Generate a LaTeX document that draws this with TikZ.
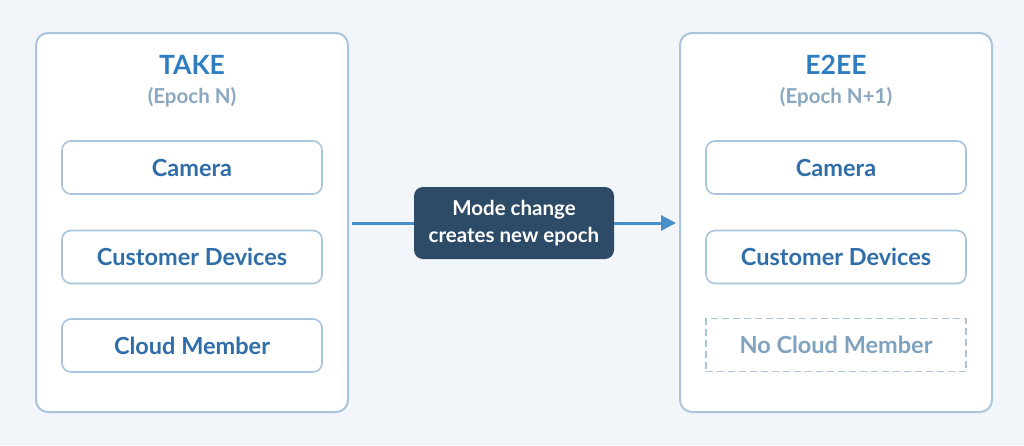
\documentclass[tikz,border=0pt]{standalone}
\usepackage{fontspec}
\setmainfont{Lato}
\usetikzlibrary{arrows.meta}
\definecolor{bg}{HTML}{F2F6FA}
\definecolor{frame}{HTML}{A9C4DC}
\definecolor{title}{HTML}{2F7DC0}
\definecolor{sub}{HTML}{8AA7C2}
\definecolor{inner}{HTML}{2F6EA8}
\definecolor{ghost}{HTML}{7FA2BF}
\definecolor{navy}{HTML}{2D4A66}
\definecolor{arrowc}{HTML}{4A8EC8}
\tikzset{
  panel/.style={draw=frame, line width=2pt, fill=white, rounded corners=12pt},
  item/.style={draw=frame, line width=1.6pt, fill=white, rounded corners=9pt, minimum width=260pt, minimum height=53pt, text=inner, font=\fontsize{23.5}{28}\selectfont\bfseries},
  ghostitem/.style={draw=frame, line width=1.6pt, dash pattern=on 7pt off 4pt, fill=white, minimum width=260pt, minimum height=53pt, text=ghost, font=\fontsize{23.5}{28}\selectfont\bfseries},
  ttl/.style={text=title, font=\fontsize{26.5}{30}\selectfont\bfseries},
  subt/.style={text=sub, font=\fontsize{20.5}{24}\selectfont\bfseries},
  midbox/.style={fill=navy, rounded corners=9pt, minimum width=200pt, minimum height=72pt, text=white, align=center, font=\fontsize{20.5}{27}\selectfont\bfseries},
  line/.style={draw=arrowc, line width=3pt},
  conn/.style={line, -{Triangle[length=15pt,width=15pt]}}
}
\begin{document}
\begin{tikzpicture}[x=1pt,y=-1pt]
\fill[bg] (0,0) rectangle (1024,445);
\useasboundingbox (0,0) rectangle (1024,445);
\node[panel, minimum width=312pt, minimum height=379pt] (left) at (192,222.5) {};
\node[panel, minimum width=312pt, minimum height=379pt] (right) at (836,222.5) {};
\node[ttl] (t1) at (192,65) {TAKE};
\node[subt] (s1) at (192,97) {(Epoch N)};
\node[ttl] (t2) at (836,65) {E2EE};
\node[subt] (s2) at (836,97) {(Epoch N+1)};
\node[item] (c1) at (192,167.5) {Camera};
\node[item] (d1) at (192,257) {Customer Devices};
\node[item] (m1) at (192,345.5) {Cloud Member};
\node[item] (c2) at (836,167.5) {Camera};
\node[item] (d2) at (836,257) {Customer Devices};
\node[ghostitem] (m2) at (836,345) {No Cloud Member};
\node[midbox] (mid) at (514,223) {Mode change\\creates new epoch};
\coordinate (a0) at (352,223);
\coordinate (a1) at (676,223);
\draw[line] (a0) -- (mid.west);
\draw[conn] (mid.east) -- (a1);
\end{tikzpicture}
\end{document}
